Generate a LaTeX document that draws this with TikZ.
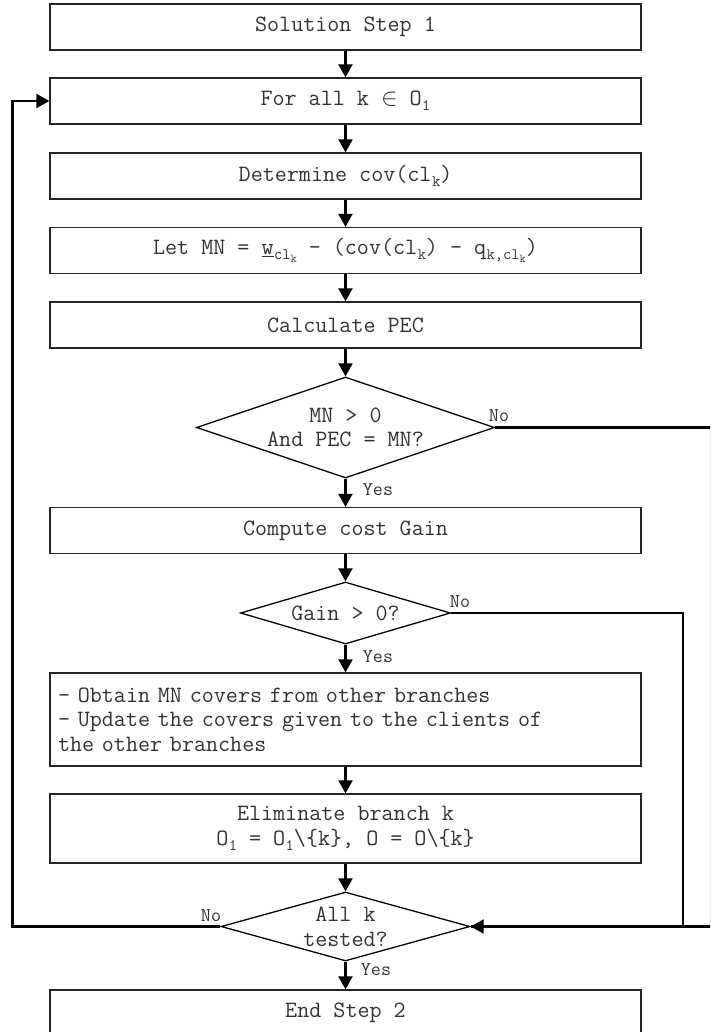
\documentclass[tikz,border=0pt]{standalone}
\usepackage{fontspec}
\usetikzlibrary{shapes.geometric,arrows.meta}

% lowered small text for indices, and a second, smaller level
\newcommand\lo[1]{\kern0.5pt\raisebox{-0.5ex}{\fontsize{16}{16}\selectfont #1}}
\newcommand\llo[1]{\raisebox{-0.45ex}{\fontsize{12}{12}\selectfont #1}}

\begin{document}
\begin{tikzpicture}[x=1pt,y=-1pt,
  font=\ttfamily\fontsize{23.4}{24.5}\selectfont,
  box/.style={draw=black!85, line width=1.3pt, minimum width=591pt,
    minimum height=46pt, inner sep=0pt, text=black!80, align=center},
  dia/.style={draw=black, diamond, line width=1.3pt, inner sep=0pt},
  dtext/.style={text=black!80, align=center, inner sep=0pt},
  conn/.style={line width=2.2pt, line join=miter, -{Triangle[length=13pt,width=14pt]}},
  wire/.style={line width=2.2pt, line join=miter},
  lbl/.style={font=\ttfamily\fontsize{19.5}{19.5}\selectfont, text=black!80, inner sep=0pt}]

\useasboundingbox (0,0) rectangle (710,1032);
\clip (0,0) rectangle (710,1032);

% process boxes
\node[box] (b1) at (345.5,27) {Solution Step 1};
\node[box] (b2) at (345.5,101) {For all k $\in$ O\lo{1}};
\node[box] (b3) at (345.5,176) {Determine cov(cl\lo{k})};
\node[box] (b4) at (345.5,250.5)
  {Let MN = \underline{w}\lo{cl\llo{k}} - (cov(cl\lo{k}) - q\lo{k,cl\llo{k}})};
\node[box] (b5) at (345.5,325) {Calculate PEC};

% first test
\node[dia, minimum width=298pt, minimum height=101pt] (d1) at (345.5,427.5) {};
\node[dtext] (d1t) at (d1.center) {MN > 0\\And PEC = MN?};

\node[box] (b6) at (345.5,530.5) {Compute cost Gain};

% second test
\node[dia, minimum width=210pt, minimum height=62pt] (d2) at (345.5,613) {};
\node[dtext] (d2t) at (d2.center) {Gain > 0?};

\node[box, minimum height=93pt, text width=575pt, inner xsep=8pt, align=left]
  (b7) at (345.5,719.5)
  {- Obtain MN covers from other branches\\
   - Update the covers given to the clients of\\
   the other branches};

\node[box, minimum height=69pt] (b8) at (345.5,828.5)
  {Eliminate branch k\\O\lo{1} = O\lo{1}\textbackslash\{k\}, O = O\textbackslash\{k\}};

% loop test
\node[dia, minimum width=249pt, minimum height=69pt] (d3) at (345.5,926.5) {};
\node[dtext] (d3t) at (d3.center) {All k\\tested?};

\node[box] (b9) at (345.5,1013) {End Step 2};

% main flow
\draw[conn] (b1) -- (b2);
\draw[conn] (b2) -- (b3);
\draw[conn] (b3) -- (b4);
\draw[conn] (b4) -- (b5);
\draw[conn] (b5) -- (d1);
\draw[conn] (d1) -- (b6);
\draw[conn] (b6) -- (d2);
\draw[conn] (d2) -- (b7);
\draw[conn] (b7) -- (b8);
\draw[conn] (b8) -- (d3);
\draw[conn] (d3) -- (b9);

% branches back to the loop test
\coordinate (r1) at (711,427.5);
\coordinate (r2) at (683,613);
\draw[conn] (d1.east) -- (r1) |- (d3.east);
\draw[wire] (d2.east) -- (r2) |- (d3.east);

% loop back to the top
\coordinate (l1) at (12.5,101);
\draw[conn] (d3.west) -| (l1) -- (b2.west);

% branch labels
\node[lbl] (n1) at (499,416) {No};
\node[lbl] (y1) at (378,490) {Yes};
\node[lbl] (n2) at (460,602) {No};
\node[lbl] (y2) at (378,657) {Yes};
\node[lbl] (n3) at (211,916) {No};
\node[lbl] (y3) at (376,970) {Yes};
\end{tikzpicture}
\end{document}
